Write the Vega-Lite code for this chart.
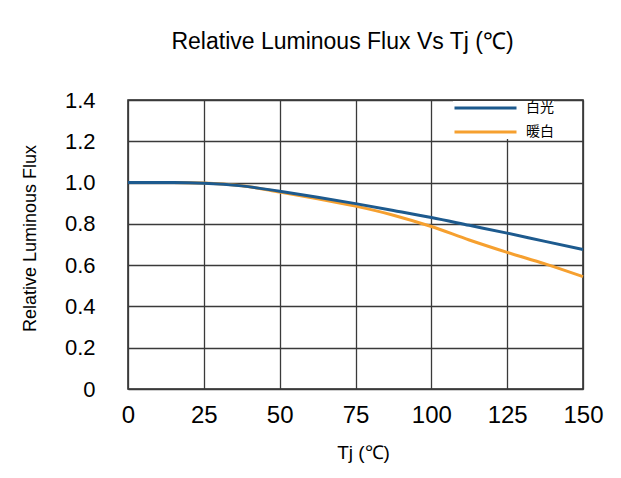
{
  "$schema": "https://vega.github.io/schema/vega-lite/v6.json",
  "width": 455,
  "height": 289,
  "autosize": {"type": "none"},
  "padding": {"left": 128, "top": 100, "right": 38, "bottom": 89},
  "background": "white",
  "title": {
    "text": "Relative Luminous Flux Vs Tj (℃)",
    "anchor": "middle",
    "frame": "group",
    "dx": -13,
    "font": "Liberation Sans",
    "fontSize": 23,
    "fontWeight": "normal",
    "color": "black",
    "baseline": "alphabetic",
    "offset": 17
  },
  "config": {
    "view": {"stroke": "#222", "strokeWidth": 1.5},
    "axis": {
      "labelFont": "Liberation Sans",
      "titleFont": "Liberation Sans",
      "labelColor": "black",
      "titleColor": "black",
      "titleFontWeight": "normal",
      "gridColor": "#3a3a3a",
      "gridWidth": 1.3,
      "gridOpacity": 1,
      "domain": false,
      "ticks": false
    }
  },
  "data": {
    "values": [
      {"Tj": 0, "flux": 1.0, "series": "暖白"},
      {"Tj": 15, "flux": 1.0, "series": "暖白"},
      {"Tj": 25, "flux": 0.998, "series": "暖白"},
      {"Tj": 37.5, "flux": 0.985, "series": "暖白"},
      {"Tj": 50, "flux": 0.954, "series": "暖白"},
      {"Tj": 62.5, "flux": 0.921, "series": "暖白"},
      {"Tj": 75, "flux": 0.886, "series": "暖白"},
      {"Tj": 87.5, "flux": 0.842, "series": "暖白"},
      {"Tj": 100, "flux": 0.787, "series": "暖白"},
      {"Tj": 112.5, "flux": 0.722, "series": "暖白"},
      {"Tj": 125, "flux": 0.662, "series": "暖白"},
      {"Tj": 137.5, "flux": 0.606, "series": "暖白"},
      {"Tj": 150, "flux": 0.544, "series": "暖白"},
      {"Tj": 0, "flux": 1.0, "series": "白光"},
      {"Tj": 15, "flux": 1.0, "series": "白光"},
      {"Tj": 25, "flux": 0.997, "series": "白光"},
      {"Tj": 37.5, "flux": 0.984, "series": "白光"},
      {"Tj": 50, "flux": 0.958, "series": "白光"},
      {"Tj": 62.5, "flux": 0.929, "series": "白光"},
      {"Tj": 75, "flux": 0.898, "series": "白光"},
      {"Tj": 87.5, "flux": 0.865, "series": "白光"},
      {"Tj": 100, "flux": 0.831, "series": "白光"},
      {"Tj": 112.5, "flux": 0.793, "series": "白光"},
      {"Tj": 125, "flux": 0.755, "series": "白光"},
      {"Tj": 137.5, "flux": 0.715, "series": "白光"},
      {"Tj": 150, "flux": 0.676, "series": "白光"}
    ]
  },
  "encoding": {
    "x": {
      "field": "Tj",
      "type": "quantitative",
      "scale": {"domain": [0, 150], "nice": false},
      "axis": {
        "values": [0, 25, 50, 75, 100, 125, 150],
        "labelFontSize": 24,
        "labelPadding": 14,
        "labelFlush": false,
        "labelOverlap": false,
        "title": "Tj (℃)",
        "titleFontSize": 19,
        "titleX": 235,
        "titleY": 63,
        "titleBaseline": "middle",
        "titleAlign": "center"
      }
    },
    "y": {
      "field": "flux",
      "type": "quantitative",
      "scale": {"domain": [0, 1.4], "nice": false, "zero": true},
      "axis": {
        "values": [0, 0.2, 0.4, 0.6, 0.8, 1.0, 1.2, 1.4],
        "labelExpr": "datum.value == 0 ? '0' : format(datum.value, '.1f')",
        "labelFontSize": 22,
        "labelPadding": 33,
        "labelFlush": false,
        "labelOverlap": false,
        "title": "Relative Luminous Flux",
        "titleFontSize": 18,
        "titleAngle": -90,
        "titleX": -98,
        "titleY": 138,
        "titleBaseline": "middle",
        "titleAlign": "center"
      }
    },
    "color": {
      "field": "series",
      "type": "nominal",
      "scale": {"domain": ["白光", "暖白"], "range": ["#1d5a8e", "#f6a02f"]},
      "legend": {
        "title": null,
        "orient": "none",
        "legendX": 325,
        "legendY": 1,
        "padding": 0,
        "fillColor": "white",
        "strokeColor": null,
        "symbolType": "stroke",
        "symbolSize": 3844,
        "symbolStrokeWidth": 3,
        "clipHeight": 14,
        "rowPadding": 10,
        "labelOffset": 8,
        "labelFont": "Noto Sans CJK SC",
        "labelFontSize": 14,
        "labelColor": "black"
      }
    }
  },
  "layer": [
    {
      "transform": [{"filter": "datum.series == '暖白'"}],
      "mark": {"type": "line", "strokeWidth": 3, "interpolate": "monotone"}
    },
    {
      "transform": [{"filter": "datum.series == '白光'"}],
      "mark": {"type": "line", "strokeWidth": 3, "interpolate": "monotone"}
    }
  ]
}
